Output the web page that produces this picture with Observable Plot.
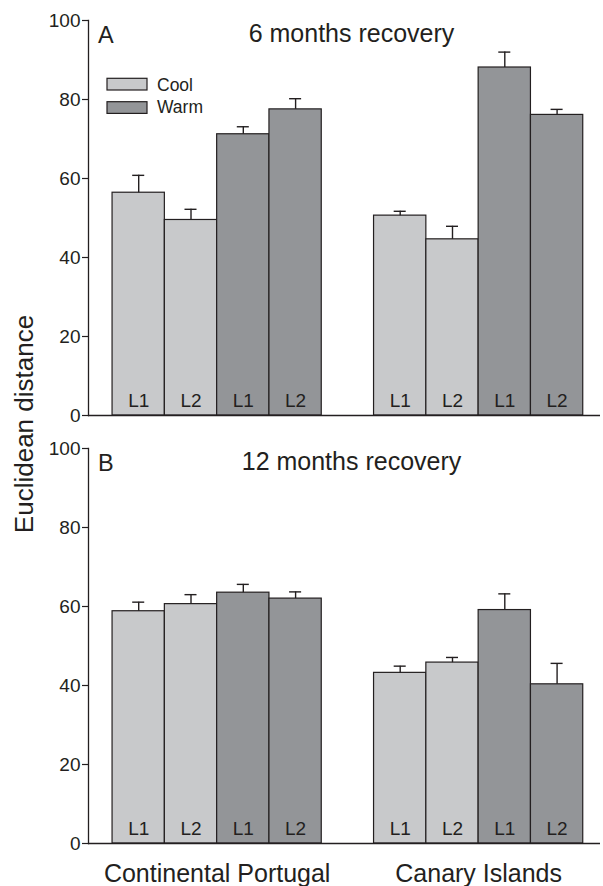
<!DOCTYPE html>
<html>
<head>
<meta charset="utf-8">
<script src="https://cdn.jsdelivr.net/npm/d3@7"></script>
<script src="https://cdn.jsdelivr.net/npm/@observablehq/plot@0.6"></script>
<style>
  html, body { margin: 0; padding: 0; background: #fff; }
  #chart { width: 603px; height: 886px; }
</style>
</head>
<body>
<div id="chart"></div>
<script>
// ---- data ----
const panels = ["A", "B"];
const titles = ["6 months recovery", "12 months recovery"];
const regions = ["Continental Portugal", "Canary Islands"];
const temps = ["Cool", "Cool", "Warm", "Warm"];
const lineLabels = ["L1", "L2", "L1", "L2"];
// order: Portugal Cool L1, Cool L2, Warm L1, Warm L2, Canary Cool L1, Cool L2, Warm L1, Warm L2
const means6 = [56.4, 49.5, 71.2, 77.5, 50.6, 44.6, 88.1, 76.1];
const errs6 = [4.4, 2.7, 1.9, 2.7, 1.1, 3.3, 3.9, 1.4];
const means12 = [58.8, 60.6, 63.5, 62.0, 43.2, 45.8, 59.1, 40.3];
const errs12 = [2.3, 2.4, 2.1, 1.7, 1.7, 1.3, 4.1, 5.3];
const yTicks = [0, 20, 40, 60, 80, 100];
const legendKeys = ["Cool", "Warm"];
const colors = ["#c8c9cb", "#939598"];

// ---- build table ----
const meansByPanel = [means6, means12];
const errsByPanel = [errs6, errs12];
const bars = [];
panels.forEach((p, pi) => {
  regions.forEach((r, gi) => {
    temps.forEach((t, k) => {
      const idx = gi * 4 + k;
      bars.push({
        panel: p, region: r, temp: t, line: lineLabels[k],
        slot: gi * 5 + k,
        value: meansByPanel[pi][idx],
        err: errsByPanel[pi][idx]
      });
    });
  });
});
const panelInfo = panels.map((p, i) => ({panel: p, title: titles[i]}));
const regionLabels = regions.map((r, i) => ({region: r, center: i * 5 + 2, panel: panels[panels.length - 1]}));

const ink = "#231f20";

const chart = Plot.plot({
  width: 603,
  height: 886,
  marginLeft: 88,
  marginRight: 3,
  marginTop: 20,
  marginBottom: 43,
  style: {fontFamily: "'Liberation Sans', Arial, Helvetica, sans-serif", color: ink, background: "#fff", overflow: "visible"},
  x: {domain: [-0.46, 9.33], axis: null},
  y: {domain: [0, 100], axis: null},
  fy: {domain: panels, paddingInner: 33 / 428, paddingOuter: 0, axis: null, label: null},
  color: {domain: legendKeys, range: colors},
  marks: [
    Plot.rect(bars, {
      x1: d => d.slot, x2: d => d.slot + 1, y1: 0, y2: "value",
      fy: "panel", fill: "temp", stroke: ink, strokeWidth: 1.2
    }),
    Plot.ruleX(bars, {
      x: d => d.slot + 0.5, y1: "value", y2: d => d.value + d.err,
      fy: "panel", stroke: ink, strokeWidth: 1.4
    }),
    Plot.ruleY(bars, {
      y: d => d.value + d.err, x1: d => d.slot + 0.385, x2: d => d.slot + 0.615,
      fy: "panel", stroke: ink, strokeWidth: 1.4
    }),
    Plot.text(bars, {
      x: d => d.slot + 0.5, y: 0, fy: "panel", text: "line",
      lineAnchor: "bottom", dy: -8.5, fontSize: 19, fill: ink
    }),
    Plot.ruleY([0], {stroke: ink, strokeWidth: 1.3}),
    Plot.frame({anchor: "left", stroke: ink, strokeWidth: 1.3}),
    Plot.axisY(yTicks, {tickSize: 6, tickPadding: 2, fontSize: 19, stroke: ink, fill: ink, strokeWidth: 1.2, label: null}),
    Plot.text(panelInfo, {
      fy: "panel", text: "panel", frameAnchor: "top-left", textAnchor: "start",
      lineAnchor: "top", dx: 9.5, dy: 5.8, fontSize: 23.5, fill: ink
    }),
    Plot.text(panelInfo, {
      fy: "panel", text: "title", frameAnchor: "top", lineAnchor: "top",
      dx: 7, dy: 4, fontSize: 25, fill: ink
    }),
    Plot.text(regionLabels, {
      x: "center", fy: "panel", text: "region", frameAnchor: "bottom",
      lineAnchor: "top", dy: 20.3, fontSize: 25, fill: ink
    })
  ]
});

// y-axis title and legend
const svg = d3.select(chart);
svg.append("text")
  .attr("transform", "translate(32.5,424) rotate(-90)")
  .attr("text-anchor", "middle")
  .attr("font-size", 26)
  .attr("fill", ink)
  .text("Euclidean distance");

const lg = svg.append("g").attr("text-anchor", "start");
legendKeys.forEach((k, i) => {
  lg.append("rect")
    .attr("x", 107).attr("y", 78.3 + i * 23.4)
    .attr("width", 40).attr("height", 11.7)
    .attr("fill", colors[i]).attr("stroke", ink).attr("stroke-width", 1.2);
  lg.append("text")
    .attr("x", 157).attr("y", 90.8 + i * 22.6)
    .attr("text-anchor", "start")
    .attr("font-size", 17.5)
    .attr("fill", ink)
    .text(k);
});

document.getElementById("chart").appendChild(chart);
</script>
</body>
</html>
